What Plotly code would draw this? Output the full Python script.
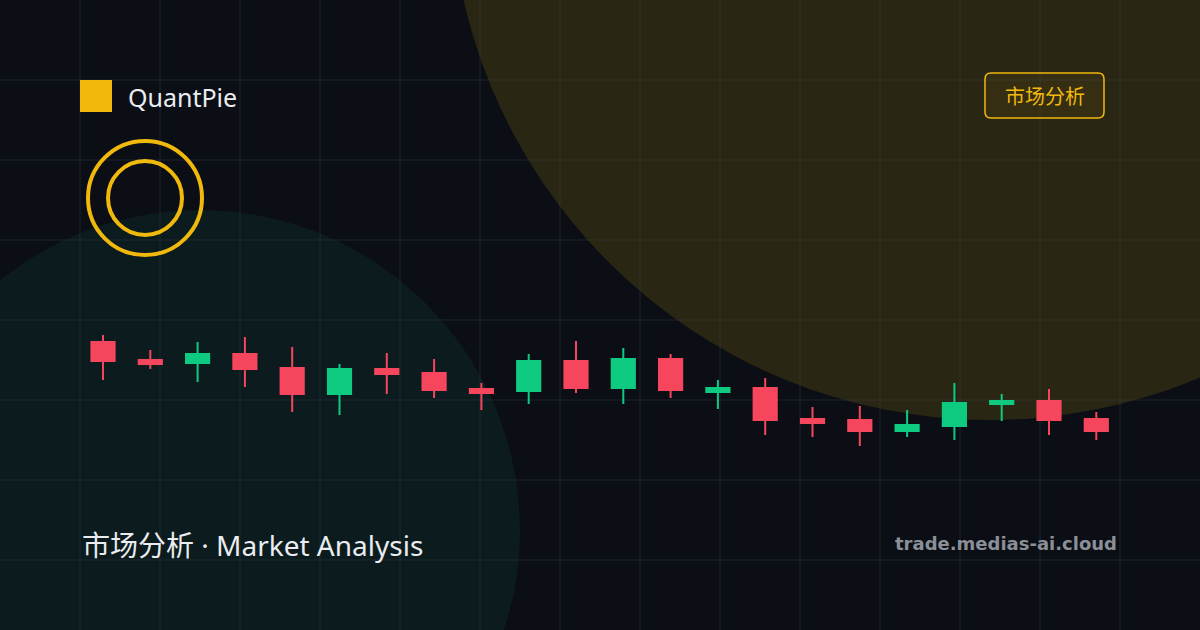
import plotly.graph_objects as go

# candle data (price units)
idx = list(range(22))
opens  = [358, 340, 337, 346, 332, 306, 331, 327, 311, 309, 339, 312, 341, 308, 312, 281, 280, 269, 274, 296, 299, 281]
closes = [339, 336, 346, 331, 306, 331, 326, 310, 307, 339, 312, 341, 310, 312, 280, 277, 269, 275, 297, 299, 280, 269]
highs  = [365, 350, 358, 363, 353, 336, 347, 341, 317, 346, 359, 352, 346, 320, 322, 293, 294, 290, 317, 306, 311, 288]
lows   = [320, 331, 318, 313, 288, 285, 306, 302, 290, 296, 307, 296, 302, 291, 265, 263, 254, 263, 260, 279, 265, 260]

W, H = 1200, 630
BG = "#0b0e14"
GOLD = "#f0b90b"

fig = go.Figure(go.Candlestick(
    x=idx, open=opens, high=highs, low=lows, close=closes,
    increasing=dict(line=dict(color="#0ecb81", width=2), fillcolor="#0ecb81"),
    decreasing=dict(line=dict(color="#f6465d", width=2), fillcolor="#f6465d"),
    whiskerwidth=0, showlegend=False, hoverinfo="skip",
))

shapes = [
    # background blobs
    dict(type="circle", xref="paper", yref="paper", layer="below",
         x0=(200 - 320) / W, x1=(200 + 320) / W, y0=1 - (530 + 320) / H, y1=1 - (530 - 320) / H,
         fillcolor="#0b1b1e", line_width=0),
    dict(type="circle", xref="paper", yref="paper", layer="below",
         x0=(990 - 540) / W, x1=(990 + 540) / W, y0=1 - (-120 + 540) / H, y1=1 - (-120 - 540) / H,
         fillcolor="#2a2614", line_width=0),
]
# grid every 80px
for gx in range(80, W, 80):
    shapes.append(dict(type="line", xref="paper", yref="paper", layer="below",
                       x0=gx / W, x1=gx / W, y0=0, y1=1, line=dict(color="rgba(60,66,80,0.4)", width=1)))
for gy in range(80, H, 80):
    shapes.append(dict(type="line", xref="paper", yref="paper", layer="below",
                       x0=0, x1=1, y0=1 - gy / H, y1=1 - gy / H, line=dict(color="rgba(60,66,80,0.4)", width=1)))

def px(x0, y0, x1, y1, **kw):
    return dict(xref="paper", yref="paper", x0=x0 / W, x1=x1 / W, y0=1 - y1 / H, y1=1 - y0 / H, **kw)

shapes += [
    px(80, 80, 112, 112, type="rect", fillcolor=GOLD, line_width=0),
    px(88, 141, 202, 255, type="circle", line=dict(color=GOLD, width=4)),
    px(108, 161, 182, 235, type="circle", line=dict(color=GOLD, width=4)),
]
# rounded badge
x0, y0, x1, y1, r = 985 / W, 1 - 73 / H, 1104 / W, 1 - 118 / H, 6
rx, ry = r / W, r / H
path = (f"M {x0+rx},{y0} L {x1-rx},{y0} Q {x1},{y0} {x1},{y0-ry} L {x1},{y1+ry} Q {x1},{y1} {x1-rx},{y1} "
        f"L {x0+rx},{y1} Q {x0},{y1} {x0},{y1+ry} L {x0},{y0-ry} Q {x0},{y0} {x0+rx},{y0} Z")
shapes.append(dict(type="path", xref="paper", yref="paper", path=path,
                   line=dict(color=GOLD, width=1.5), fillcolor="rgba(240,185,11,0.06)"))

font = "Noto Sans, Noto Sans CJK SC, sans-serif"
annotations = [
    dict(x=126 / W, y=1 - 97 / H, text="QuantPie", xanchor="left", yanchor="middle",
         font=dict(size=25, color="#eaecef", family=font)),
    dict(x=1044.5 / W, y=1 - 96 / H, text="市场分析", xanchor="center", yanchor="middle",
         font=dict(size=20, color=GOLD, family=font)),
    dict(x=80 / W, y=1 - 545 / H, text="市场分析 · Market Analysis", xanchor="left", yanchor="middle",
         font=dict(size=28, color="#eaecef", family=font)),
    dict(x=1119 / W, y=1 - 543 / H, text="<b>trade.medias-ai.cloud</b>", xanchor="right", yanchor="middle",
         font=dict(size=18, color="#8a8f98", family="DejaVu Sans, sans-serif")),
]
for a in annotations:
    a.update(xref="paper", yref="paper", showarrow=False)

fig.update_layout(
    width=W, height=H, margin=dict(l=0, r=0, t=0, b=0),
    paper_bgcolor=BG, plot_bgcolor=BG,
    xaxis=dict(range=[-103 / 47.3, (W - 103) / 47.3], visible=False, rangeslider_visible=False, fixedrange=True),
    yaxis=dict(range=[70, 700], visible=False, fixedrange=True),
    shapes=shapes, annotations=annotations,
)
fig.write_html("out.html", config={"displayModeBar": False},
               post_script="document.body.style.margin='0';document.body.style.background='#0b0e14';")
